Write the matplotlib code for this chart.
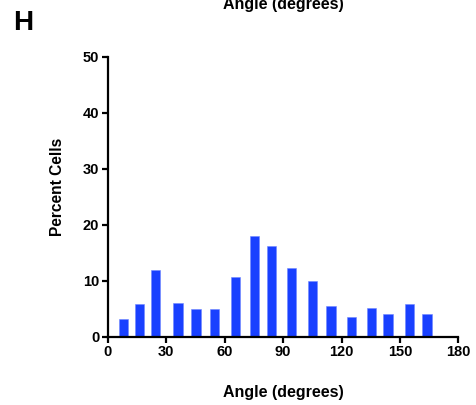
import matplotlib
matplotlib.use("Agg")
import matplotlib.pyplot as plt

# Data
bin_centers = [7.9, 16.5, 24.6, 36.1, 45.3, 54.8, 65.8, 75.3, 84.2, 94.2,
               105.0, 114.6, 125.3, 135.6, 143.9, 154.7, 163.9]
percent_cells = [3.2, 5.9, 12.0, 6.1, 5.0, 5.0, 10.7, 18.0, 16.2, 12.3,
                 10.0, 5.6, 3.6, 5.2, 4.1, 5.9, 4.1]
x_ticks = [0, 30, 60, 90, 120, 150, 180]
y_ticks = [0, 10, 20, 30, 40, 50]

plt.rcParams['font.family'] = ['Liberation Sans', 'DejaVu Sans']

fig = plt.figure(figsize=(4.77, 4.05), dpi=100)
ax = fig.add_axes([0.2258, 0.168, 0.961 - 0.2258, 0.860 - 0.168])

ax.bar(bin_centers, percent_cells, width=4.7, color='#1940ff',
       edgecolor='#6f86ff', linewidth=0.4)

ax.set_xlim(0, 180)
ax.set_ylim(0, 50)
ax.set_xticks(x_ticks)
ax.set_yticks(y_ticks)
for s in ['top', 'right']:
    ax.spines[s].set_visible(False)
for s in ['left', 'bottom']:
    ax.spines[s].set_linewidth(1.6)
ax.tick_params(axis='both', width=1.6, length=4, labelsize=10.5, pad=2)
for lab in ax.get_xticklabels() + ax.get_yticklabels():
    lab.set_fontweight('bold')

fig.text(283 / 477, 1 - 392 / 405, 'Angle (degrees)', ha='center', va='center',
         fontsize=11.5, fontweight='bold')
fig.text(58 / 477, 1 - 187 / 405, 'Percent Cells', ha='center', va='center',
         rotation=90, fontsize=11.2, fontweight='bold')
fig.text(283 / 477, 1 - 9 / 405, 'Angle (degrees)', ha='center', va='baseline',
         fontsize=11.5, fontweight='bold')
fig.text(13 / 477, 1 - 30 / 405, 'H', ha='left', va='baseline',
         fontsize=20, fontweight='bold')

fig.savefig('out.png', dpi=100)
